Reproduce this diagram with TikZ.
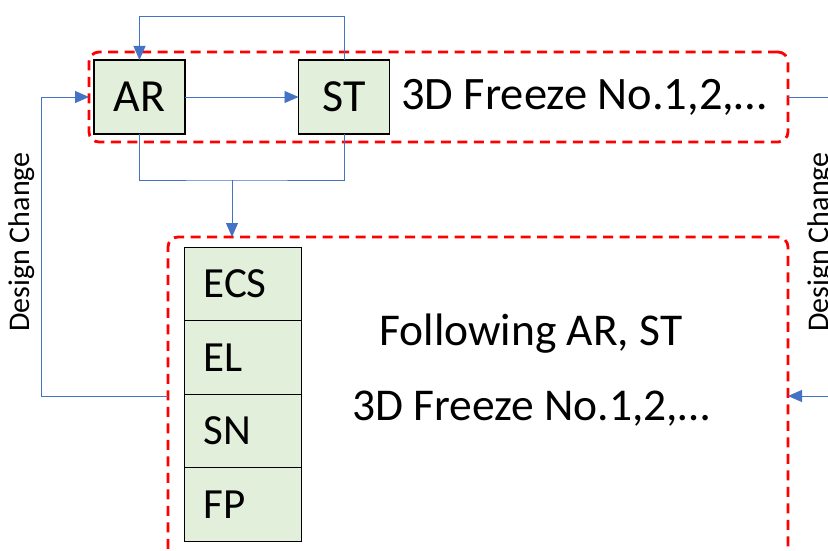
\documentclass[tikz,border=0pt]{standalone}
\usepackage{fontspec}
\setmainfont{Carlito}
\usetikzlibrary{arrows.meta,positioning}
\definecolor{FlowBlue}{HTML}{4472C4}
\definecolor{FrameRed}{HTML}{FF0000}
\definecolor{BoxGreen}{HTML}{E2EFDA}

\begin{document}
\begin{tikzpicture}[
  x=1pt,
  y=-1pt,
  >=Triangle,
  frame/.style={rectangle,rounded corners=10pt,draw=FrameRed,line width=2.8pt,dash pattern=on 10pt off 6.5pt,inner sep=0,outer sep=0},
  unit/.style={rectangle,draw=black,line width=1.4pt,fill=BoxGreen,inner sep=0,outer sep=0,minimum width=91pt,minimum height=74pt,font=\fontsize{46}{54}\selectfont},
  stack/.style={rectangle,draw=black,line width=1.4pt,fill=BoxGreen,outer sep=0,inner xsep=19pt,inner ysep=0,text width=79pt,align=left,minimum height=73.5pt,font=\fontsize{43}{52}\selectfont},
  link/.style={draw=FlowBlue,line width=0.9pt},
  flow/.style={link,-{Triangle[length=14pt,width=12pt]}},
  big/.style={font=\fontsize{45.5}{75}\selectfont},
  side/.style={font=\fontsize{30}{36}\selectfont,rotate=90}
]
  \clip (0,0) rectangle (828,551);

  % frames
  \node[frame,minimum width=699pt,minimum height=90pt] (stage) at (438.5,97) {};
  \node[frame,minimum width=620pt,minimum height=363pt] (follow) at (478,418.5) {};

  % top row
  \node[unit] (ar) at (139.5,97) {AR};
  \node[unit] (st) at (344,97) {ST};
  \node[big,anchor=west,inner sep=0,font=\fontsize{46.5}{56}\selectfont] (freeze) at (401,97) {3D Freeze No.1,2,…};

  % stacked units
  \node[stack] (ecs) at (243,284) {ECS};
  \node[stack,below=0pt of ecs] (el) {EL};
  \node[stack,below=0pt of el] (sn) {SN};
  \node[stack,below=0pt of sn] (fp) {FP};
  \node[big,align=center] (next) at (531,370) {Following AR, ST\\3D Freeze No.1,2,…};

  % connectors
  \draw[flow] (ar) -- (st);
  \draw[flow] (st.north) -- (st.north |- 0,16) -| (ar.north);
  \coordinate (split) at (232,180);
  \draw[link] (ar.south) |- (split) -| (st.south);
  \draw[flow] (split) -- (split |- follow.north);
  \draw[flow] (follow.west |- 0,396) -| (41,97) -- (stage.west);
  \draw[flow] (stage.east) -| (852,396) -- (follow.east |- 0,396);

  % labels
  \node[side] (back) at (22,242) {Design Change};
  \node[side] (back2) at (821,242) {Design Change};
\end{tikzpicture}
\end{document}
